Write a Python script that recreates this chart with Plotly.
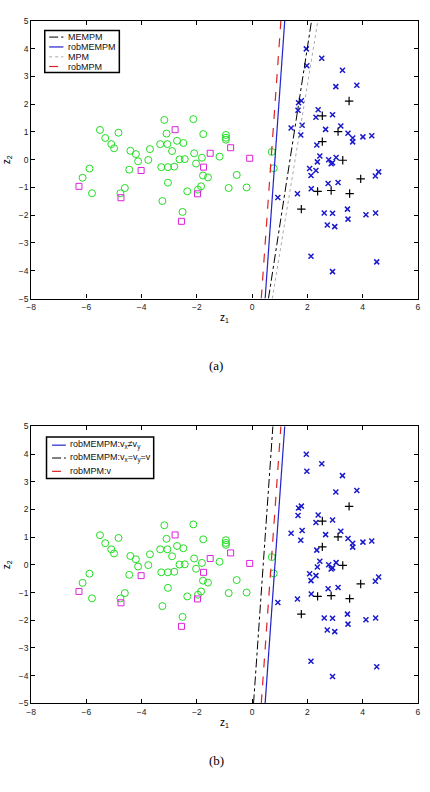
import plotly.graph_objects as go

# ---- data ----
circ_x = [-5.51, -4.84, -5.32, -5.10, -5.00, -5.89, -6.14, -5.80, -4.77, -4.61,
          -4.41, -4.21, -4.13, -4.45, -3.70, -3.76, -3.18, -3.10, -3.33, -3.07,
          -2.72, -2.49, -2.90, -3.29, -3.05, -2.82, -2.63, -2.44, -3.05, -3.25,
          -2.35, -2.52, -2.13, -1.77, -2.10, -2.03, -1.82, -1.78, -1.60, -1.85,
          -1.96, -1.18, -0.95, -0.95, -0.95, -0.56, -0.85, -0.20, 0.71, 0.78]
circ_y = [1.07, 0.97, 0.78, 0.56, 0.41, -0.32, -0.65, -1.21, -1.21, -1.02,
          0.32, 0.20, -0.06, -0.36, 0.38, -0.01, 1.43, 0.94, 0.56, 0.56,
          0.68, 0.60, 0.31, -0.27, -0.27, -0.25, 0.01, 0.02, -0.83, -1.49,
          -1.14, -1.88, 1.46, 0.92, 0.23, -0.14, 0.07, -0.57, -0.64, -0.96,
          -1.08, 0.11, 0.89, 0.79, 0.72, -0.55, -1.02, -1.00, 0.28, -0.31]

sq_x = [-6.27, -4.75, -4.02, -2.79, -2.56, -1.98, -1.76, -1.52, -0.78, -0.09]
sq_y = [-0.96, -1.37, -0.39, 1.08, -2.22, -1.23, -0.27, 0.23, 0.43, 0.05]

cross_x = [1.96, 1.98, 2.52, 3.27, 3.03, 3.79, 1.68, 1.78, 1.66, 2.39,
           2.31, 2.91, 1.81, 1.41, 1.76, 2.66, 3.21, 3.47, 3.64, 3.64,
           4.01, 4.33, 2.34, 2.45, 2.36, 2.77, 2.86, 2.91, 3.04, 2.08,
           2.31, 2.13, 2.75, 3.11, 2.14, 1.64, 0.93, 2.61, 2.91, 3.45,
           3.47, 2.72, 2.99, 4.12, 4.47, 4.46, 4.58, 2.13, 2.91, 4.51]
cross_y = [3.99, 3.38, 3.65, 3.22, 2.63, 2.68, 2.05, 2.12, 1.78, 1.80,
           1.53, 1.62, 1.24, 1.14, 0.89, 1.09, 1.21, 0.95, 0.78, 0.64,
           0.82, 0.86, 0.53, 0.13, -0.08, 0.00, -0.15, -0.11, 0.08, -0.32,
           -0.39, -0.57, -0.86, -0.82, -1.05, -1.23, -1.36, -1.92, -1.93, -1.78,
           -2.14, -2.35, -2.41, -1.98, -1.92, -0.59, -0.44, -3.48, -4.03, -3.68]

plus_x = [3.51, 2.54, 3.11, 2.54, 3.28, 3.93, 2.37, 2.86, 3.53, 1.78]
plus_y = [2.11, 1.58, 1.01, 0.65, -0.02, -0.69, -1.14, -1.11, -1.22, -1.78]

line_y = [-5, 5]
# panel (a)
names_a = ["MEMPM", "robMEMPM", "MPM", "robMPM"]
lines_a_x = [[0.59, 2.15], [0.47, 1.18], [0.73, 2.38], [0.33, 1.04]]
# panel (b)
names_b = ["robMEMPM:v<sub>x</sub>≠v<sub>y</sub>",
           "robMEMPM:v<sub>x</sub>=v<sub>y</sub>=v",
           "robMPM:v"]
lines_b_x = [[0.47, 1.18], [0.05, 0.75], [0.33, 1.04]]

x_ticks = [-8, -6, -4, -2, 0, 2, 4, 6]
y_ticks = [-5, -4, -3, -2, -1, 0, 1, 2, 3, 4, 5]

# ---- styles ----
STY = {
    "black_dd": dict(color="black", width=1, dash="dashdot"),
    "blue": dict(color="#2222cc", width=1.2, dash="solid"),
    "gray_dot": dict(color="#aaaaaa", width=1, dash="dot"),
    "red_dash": dict(color="#dd2222", width=1.2, dash="dash"),
}
styles_a = ["black_dd", "blue", "gray_dot", "red_dash"]
styles_b = ["blue", "black_dd", "red_dash"]

FONT = "Liberation Sans"
W, H = 430, 792
fig = go.Figure()


def add_points(xa, ya):
    fig.add_trace(go.Scatter(x=circ_x, y=circ_y, mode="markers", xaxis=xa, yaxis=ya,
                             showlegend=False,
                             marker=dict(symbol="circle-open", size=7, color="#22dd22",
                                         line=dict(width=1, color="#22dd22"))))
    fig.add_trace(go.Scatter(x=sq_x, y=sq_y, mode="markers", xaxis=xa, yaxis=ya,
                             showlegend=False,
                             marker=dict(symbol="square-open", size=6, color="#dd22dd",
                                         line=dict(width=1, color="#dd22dd"))))
    fig.add_trace(go.Scatter(x=cross_x, y=cross_y, mode="markers", xaxis=xa, yaxis=ya,
                             showlegend=False,
                             marker=dict(symbol="x-thin-open", size=5, color="#1a1acc",
                                         line=dict(width=1.5, color="#1a1acc"))))
    fig.add_trace(go.Scatter(x=plus_x, y=plus_y, mode="markers", xaxis=xa, yaxis=ya,
                             showlegend=False,
                             marker=dict(symbol="cross-thin-open", size=6, color="black",
                                         line=dict(width=1.2, color="black"))))


add_points("x", "y")
for nm, xs, st in zip(names_a, lines_a_x, styles_a):
    fig.add_trace(go.Scatter(x=xs, y=line_y, mode="lines", name=nm, showlegend=False,
                             xaxis="x", yaxis="y", line=STY[st]))
add_points("x2", "y2")
for nm, xs, st in zip(names_b, lines_b_x, styles_b):
    fig.add_trace(go.Scatter(x=xs, y=line_y, mode="lines", name=nm, showlegend=False,
                             xaxis="x2", yaxis="y2", line=STY[st]))

# ---- hand-made legends (compact, MATLAB-like) ----
shapes = []
annotations = []


def px(x):
    return x / W


def py(y):
    return 1 - y / H


def legend_box(x0, y0, x1, y1, rows_y, lx0, lx1, tx, names, styles, fs):
    shapes.append(dict(type="rect", xref="paper", yref="paper",
                       x0=px(x0), x1=px(x1), y0=py(y1), y1=py(y0),
                       line=dict(color="black", width=1.5), fillcolor="white", layer="above"))
    for ry, nm, st in zip(rows_y, names, styles):
        s = STY[st]
        shapes.append(dict(type="line", xref="paper", yref="paper",
                           x0=px(lx0), x1=px(lx1), y0=py(ry), y1=py(ry),
                           line=dict(color=s["color"], width=s["width"], dash=s["dash"]),
                           layer="above"))
        annotations.append(dict(text=nm, x=px(tx), y=py(ry), xref="paper", yref="paper",
                                xanchor="left", yanchor="middle", showarrow=False,
                                borderpad=0,
                                font=dict(family=FONT, size=fs, color="#111111")))


legend_box(40.5, 25.7, 116.5, 68.3, [32.5, 42.5, 52.5, 62.3], 45, 59.5, 63, names_a, styles_a, 9)
legend_box(42.3, 437.5, 151.5, 479.5, [445.8, 458.8, 472.3], 48, 62, 65, names_b, styles_b, 9)

annotations += [
    dict(text="(a)", x=px(215), y=py(365), xref="paper", yref="paper",
         showarrow=False, font=dict(family="Liberation Serif", size=13, color="black")),
    dict(text="(b)", x=px(215), y=py(775), xref="paper", yref="paper",
         showarrow=False, font=dict(family="Liberation Serif", size=13, color="black")),
]

xd = [26.7 / W, 420.7 / W]
axis_common = dict(showline=True, linecolor="black", linewidth=1.2, mirror="ticks",
                   ticks="inside", ticklen=4, tickcolor="black", showgrid=False,
                   zeroline=False, tickfont=dict(family=FONT, size=8.5, color="#222222"))

fig.update_layout(
    width=W, height=H,
    margin=dict(l=0, r=0, t=0, b=0),
    plot_bgcolor="white", paper_bgcolor="white",
    font=dict(family=FONT, size=9, color="black"),
    showlegend=False,
    xaxis=dict(domain=xd, range=[-8, 6], tickvals=x_ticks, anchor="y",
               title=dict(text="z<sub>1</sub>", standoff=3, font=dict(size=10)), **axis_common),
    yaxis=dict(domain=[1 - 297.3 / H, 1 - 16 / H], range=[-5, 5], tickvals=y_ticks,
               anchor="x", title=dict(text="z<sub>2</sub>", standoff=6, font=dict(size=10)),
               **axis_common),
    xaxis2=dict(domain=xd, range=[-8, 6], tickvals=x_ticks, anchor="y2",
                title=dict(text="z<sub>1</sub>", standoff=3, font=dict(size=10)), **axis_common),
    yaxis2=dict(domain=[1 - 707.3 / H, 1 - 426.7 / H], range=[-5, 5], tickvals=y_ticks,
                anchor="x2", title=dict(text="z<sub>2</sub>", standoff=6, font=dict(size=10)),
                **axis_common),
    shapes=shapes,
    annotations=annotations,
)

fig.write_html("out.html")
